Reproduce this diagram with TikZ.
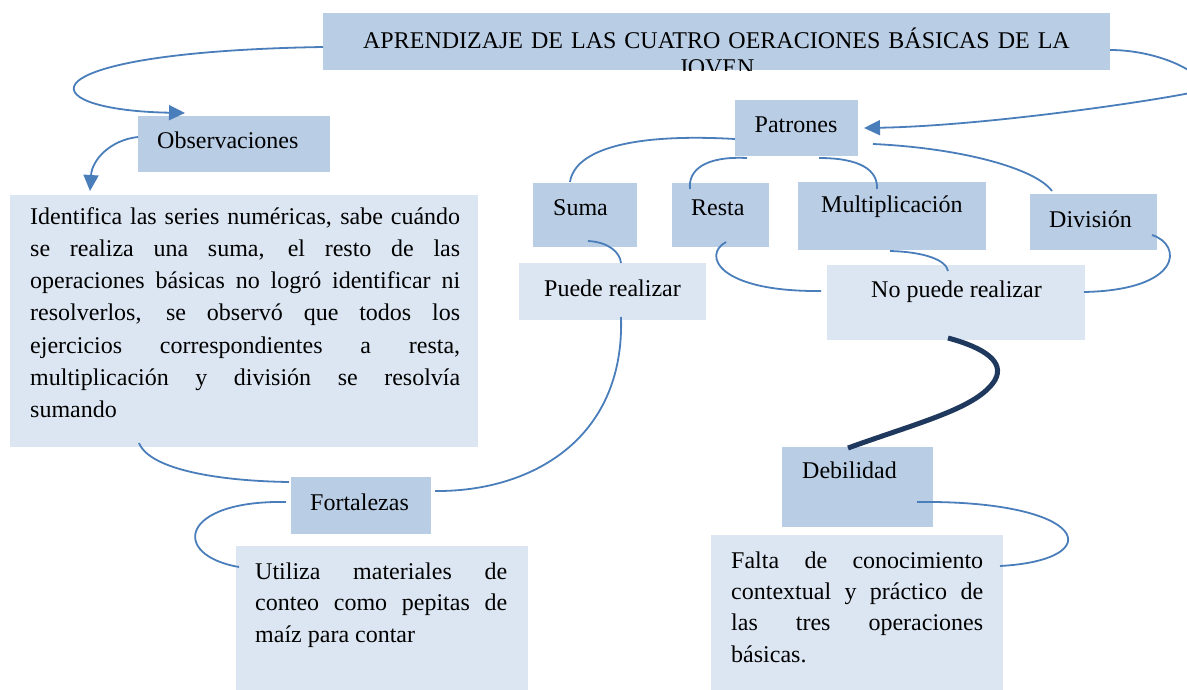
\documentclass[tikz,border=0pt]{standalone}
\usepackage{fontspec}
\setmainfont{Liberation Serif}
\usetikzlibrary{calc,arrows.meta}
\definecolor{boxmid}{HTML}{B9CDE5}
\definecolor{boxlight}{HTML}{DCE6F2}
\definecolor{linkblue}{HTML}{4A7EBB}
\definecolor{darklink}{HTML}{1F385D}
\begin{document}
\begin{tikzpicture}[x=1pt,y=-1pt,
  midbox/.style={fill=boxmid,draw=none,inner sep=0pt,anchor=north west},
  lightbox/.style={fill=boxlight,draw=none,inner sep=0pt,anchor=north west},
  lbl/.style={inner sep=0pt,anchor=base west,font=\fontsize{24}{32}\selectfont},
  para/.style={inner sep=0pt,anchor=north west,align=justify},
  link/.style={draw=linkblue,line width=1.8pt},
  arr/.style={link,-{Triangle[length=16pt,width=15pt]}},
  heavylink/.style={draw=darklink,line width=5pt}]
\useasboundingbox (0,0) rectangle (1187,690);
\clip (0,0) rectangle (1187,690);

% boxes
\node[midbox,minimum width=787pt,minimum height=57pt] (title) at (323,13) {};
\node[midbox,minimum width=192pt,minimum height=56pt] (obs) at (138,116) {};
\node[lightbox,minimum width=468pt,minimum height=252pt] (iden) at (10,195) {};
\node[midbox,minimum width=123pt,minimum height=56pt] (pat) at (735,100) {};
\node[midbox,minimum width=104pt,minimum height=64pt] (suma) at (533,183) {};
\node[midbox,minimum width=97pt,minimum height=64pt] (resta) at (672,183) {};
\node[midbox,minimum width=188pt,minimum height=68pt] (mult) at (798,182) {};
\node[midbox,minimum width=127pt,minimum height=56pt] (div) at (1030,194) {};
\node[lightbox,minimum width=187pt,minimum height=57pt] (puede) at (519,263) {};
\node[lightbox,minimum width=258pt,minimum height=75pt] (nopuede) at (827,265) {};
\node[midbox,minimum width=151pt,minimum height=80pt] (deb) at (782,447) {};
\node[lightbox,minimum width=292pt,minimum height=155pt] (falta) at (711,535) {};
\node[midbox,minimum width=140pt,minimum height=57pt] (fort) at (291,477) {};
\node[lightbox,minimum width=292pt,minimum height=144pt] (util) at (236,546) {};

% title text, clipped by its box
\begin{scope}
\clip (title.north west) rectangle (title.south east);
\node[inner sep=0pt,anchor=north,text width=787pt,align=center,
  font=\fontsize{24}{27}\selectfont] (titletext) at (716.5,28.1)
  {\strut APRENDIZAJE DE LAS CUATRO OERACIONES BÁSICAS DE LA\\ JOVEN};
\end{scope}

% labels
\node[lbl] (obstext) at (157,149) {Observaciones};
\node[lbl,anchor=base] (pattext) at (796,133) {Patrones};
\node[lbl] (sumatext) at (553,215) {Suma};
\node[lbl] (restatext) at (691,215) {Resta};
\node[lbl] (multtext) at (821,213) {Multiplicación};
\node[lbl] (divtext) at (1049,227) {División};
\node[lbl] (puedetext) at (544,296) {Puede realizar};
\node[lbl] (nopuedetext) at (871,297) {No puede realizar};
\node[lbl] (debtext) at (802,478) {Debilidad};
\node[lbl] (forttext) at (310,510) {Fortalezas};

\node[para,text width=430pt,font=\fontsize{24}{32.2}\selectfont] (identext) at (30,201.5)
 {\strut Identifica las series numéricas, sabe cuándo\linebreak
  se realiza una suma, el resto de las\linebreak
  operaciones básicas no logró identificar ni\linebreak
  resolverlos, se observó que todos los\linebreak
  ejercicios correspondientes a resta,\linebreak
  multiplicación y división se resolvía\linebreak
  sumando};
\node[para,text width=252pt,font=\fontsize{24}{31.5}\selectfont] (utiltext) at (255,557)
 {\strut Utiliza materiales de\linebreak
  conteo como pepitas de\linebreak
  maíz para contar};
\node[para,text width=252pt,font=\fontsize{24}{31.3}\selectfont] (faltatext) at (731,546)
 {\strut Falta de conocimiento\linebreak
  contextual y práctico de\linebreak
  las tres operaciones\linebreak
  básicas.};

% connectors
\draw[arr] ($(title.north west)+(0,34)$) .. controls (20,52) and (25,110) .. ($(obs.north west)+(47,-3)$);
\draw[arr] ($(obs.north west)+(0,21)$) .. controls (110,140) and (92,160) .. ($(iden.north west)+(80,-4)$);
\draw[arr] ($(title.north west)+(787,37)$) .. controls (1170,50) and (1225,85) .. (1190,93)
   .. controls (1140,103) and (980,126) .. ($(pat.north west)+(129,28)$);
\draw[link] ($(pat.north west)+(0,39)$) .. controls (630,133) and (575,150) .. ($(suma.north west)+(37,-1)$);
\draw[link] ($(pat.north west)+(12,58)$) .. controls (705,156) and (688,170) .. ($(resta.north west)+(18,6)$);
\draw[link] ($(pat.north west)+(84,58)$) .. controls (860,158) and (878,170) .. ($(mult.north west)+(79,7)$);
\draw[link] ($(pat.north west)+(138,44)$) .. controls (960,148) and (1035,168) .. ($(div.north west)+(22,-3)$);
\draw[link] ($(suma.north west)+(55,58)$) .. controls (608,242) and (620,252) .. ($(puede.north west)+(102,0)$);
\draw[link] ($(resta.north west)+(54,59)$) .. controls (702,255) and (718,292) .. ($(nopuede.north west)+(-6,26)$);
\draw[link] ($(mult.north west)+(92,69)$) .. controls (925,252) and (946,260) .. ($(nopuede.north west)+(121,6)$);
\draw[link] ($(div.north west)+(122,41)$) .. controls (1183,245) and (1182,290) .. ($(nopuede.north west)+(257,27)$);
\draw[heavylink] ($(nopuede.north west)+(121,73)$) .. controls (985,348) and (1005,362) .. (995,380)
   .. controls (978,408) and (920,422) .. ($(deb.north west)+(66,1)$);
\draw[link] ($(iden.north west)+(129,248)$) .. controls (150,470) and (220,481) .. ($(fort.north west)+(-2,5)$);
\draw[link] ($(fort.north west)+(144,14)$) .. controls (530,492) and (625,440) .. ($(puede.north west)+(102,54)$);
\draw[link] ($(fort.north west)+(-5,25)$) .. controls (180,500) and (170,555) .. ($(util.north west)+(3,21)$);
\draw[link] ($(deb.north west)+(135,55)$) .. controls (1090,500) and (1110,560) .. ($(falta.north west)+(289,31)$);
\end{tikzpicture}
\end{document}
